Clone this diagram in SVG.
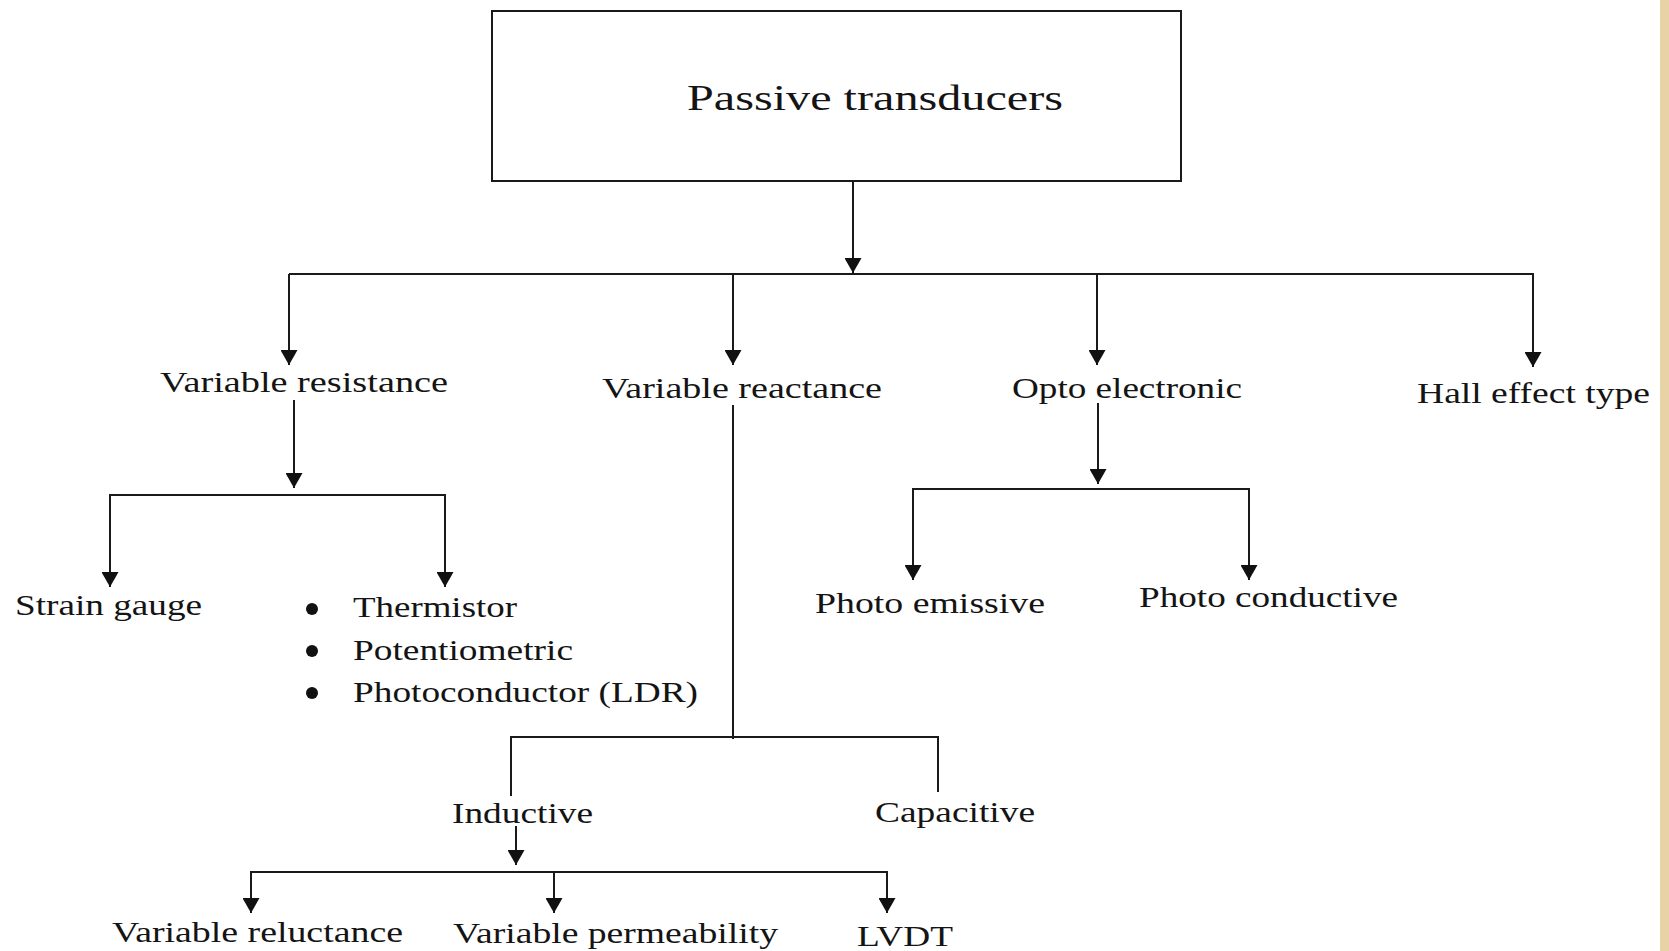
<svg xmlns="http://www.w3.org/2000/svg" width="1669" height="951" viewBox="0 0 1669 951">
<defs>
<style>
.t{font-family:"Liberation Serif","Times New Roman",serif;font-size:30px;fill:#141414}
.ttl{font-size:36px}
.c{stroke:#1a1a1a;stroke-width:2;fill:none}
.box{fill:#ffffff;stroke:#1a1a1a;stroke-width:2}
.dot{fill:#111}
</style>
<marker id="ah" viewBox="0 0 15 17" refX="15" refY="8.5" markerWidth="15" markerHeight="17" markerUnits="userSpaceOnUse" orient="auto">
<path d="M0,0 L15,8.5 L0,17 z" fill="#111"/>
</marker>
</defs>
<rect x="0" y="0" width="1669" height="951" fill="#ffffff"/>
<rect x="1660" y="0" width="9" height="951" fill="#e8d3a6"/>

<g id="connectors">
<line class="c" x1="853" y1="181" x2="853" y2="273" marker-end="url(#ah)"/>
<line class="c" x1="289" y1="274" x2="1534" y2="274"/>
<line class="c" x1="289" y1="274" x2="289" y2="365" marker-end="url(#ah)"/>
<line class="c" x1="733" y1="274" x2="733" y2="365" marker-end="url(#ah)"/>
<line class="c" x1="1097" y1="274" x2="1097" y2="365" marker-end="url(#ah)"/>
<line class="c" x1="1533" y1="274" x2="1533" y2="367" marker-end="url(#ah)"/>

<line class="c" x1="294" y1="400" x2="294" y2="488" marker-end="url(#ah)"/>
<line class="c" x1="109" y1="495" x2="446" y2="495"/>
<line class="c" x1="110" y1="495" x2="110" y2="587" marker-end="url(#ah)"/>
<line class="c" x1="445" y1="495" x2="445" y2="587" marker-end="url(#ah)"/>

<line class="c" x1="733" y1="405" x2="733" y2="739"/>
<line class="c" x1="510" y1="737" x2="939" y2="737"/>
<line class="c" x1="511" y1="737" x2="511" y2="796"/>
<line class="c" x1="938" y1="737" x2="938" y2="792"/>

<line class="c" x1="1098" y1="403" x2="1098" y2="484" marker-end="url(#ah)"/>
<line class="c" x1="912" y1="489" x2="1250" y2="489"/>
<line class="c" x1="913" y1="489" x2="913" y2="580" marker-end="url(#ah)"/>
<line class="c" x1="1249" y1="489" x2="1249" y2="580" marker-end="url(#ah)"/>

<line class="c" x1="516" y1="826" x2="516" y2="865" marker-end="url(#ah)"/>
<line class="c" x1="250" y1="872" x2="888" y2="872"/>
<line class="c" x1="251" y1="872" x2="251" y2="913" marker-end="url(#ah)"/>
<line class="c" x1="554" y1="872" x2="554" y2="913" marker-end="url(#ah)"/>
<line class="c" x1="887" y1="872" x2="887" y2="913" marker-end="url(#ah)"/>
</g>

<g id="passive-transducers">
<rect class="box" x="492" y="11" width="689" height="170"/>
<text class="t ttl" x="687" y="110" textLength="376" lengthAdjust="spacingAndGlyphs">Passive transducers</text>
</g>

<g id="variable-resistance"><text class="t" x="160" y="392" textLength="288" lengthAdjust="spacingAndGlyphs">Variable resistance</text></g>
<g id="variable-reactance"><text class="t" x="602" y="398" textLength="280" lengthAdjust="spacingAndGlyphs">Variable reactance</text></g>
<g id="opto-electronic"><text class="t" x="1012" y="398" textLength="230" lengthAdjust="spacingAndGlyphs">Opto electronic</text></g>
<g id="hall-effect"><text class="t" x="1417" y="403" textLength="233" lengthAdjust="spacingAndGlyphs">Hall effect type</text></g>

<g id="strain-gauge"><text class="t" x="15" y="615" textLength="187" lengthAdjust="spacingAndGlyphs">Strain gauge</text></g>
<g id="resistance-list">
<circle class="dot" cx="312" cy="609" r="6"/>
<circle class="dot" cx="312" cy="651" r="6"/>
<circle class="dot" cx="312" cy="693" r="6"/>
<text class="t" x="353" y="617" textLength="164" lengthAdjust="spacingAndGlyphs">Thermistor</text>
<text class="t" x="353" y="660" textLength="220" lengthAdjust="spacingAndGlyphs">Potentiometric</text>
<text class="t" x="353" y="702" textLength="345" lengthAdjust="spacingAndGlyphs">Photoconductor (LDR)</text>
</g>

<g id="photo-emissive"><text class="t" x="815" y="613" textLength="230" lengthAdjust="spacingAndGlyphs">Photo emissive</text></g>
<g id="photo-conductive"><text class="t" x="1139" y="607" textLength="259" lengthAdjust="spacingAndGlyphs">Photo conductive</text></g>

<g id="inductive"><text class="t" x="452" y="823" textLength="141" lengthAdjust="spacingAndGlyphs">Inductive</text></g>
<g id="capacitive"><text class="t" x="875" y="822" textLength="160" lengthAdjust="spacingAndGlyphs">Capacitive</text></g>

<g id="variable-reluctance"><text class="t" x="112" y="942" textLength="291" lengthAdjust="spacingAndGlyphs">Variable reluctance</text></g>
<g id="variable-permeability"><text class="t" x="453" y="943" textLength="325" lengthAdjust="spacingAndGlyphs">Variable permeability</text></g>
<g id="lvdt"><text class="t" x="857" y="946" textLength="96" lengthAdjust="spacingAndGlyphs">LVDT</text></g>
</svg>
